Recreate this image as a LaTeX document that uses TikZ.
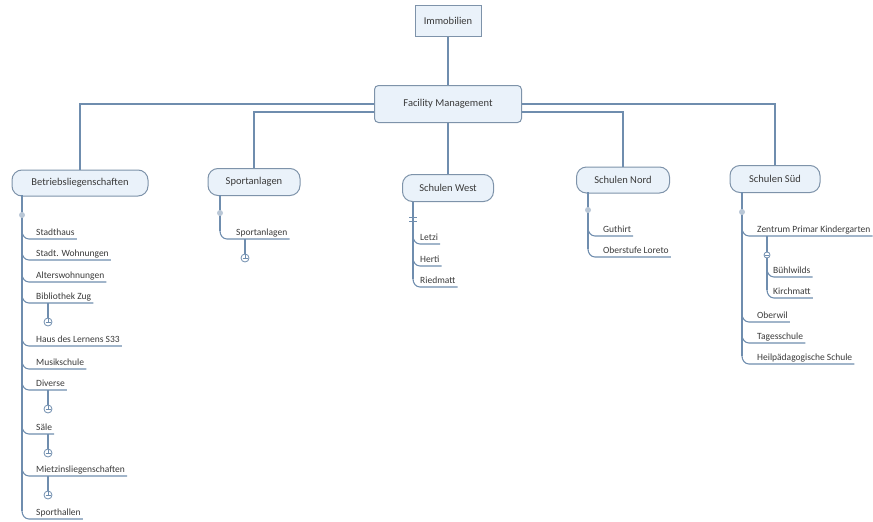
\documentclass[tikz,border=0pt]{standalone}
\usepackage{fontspec}
\setmainfont{Carlito}
\definecolor{lnc}{HTML}{6F8DAE}
\definecolor{boxc}{HTML}{7E93AA}
\definecolor{boxfill}{HTML}{EAF2FA}
\definecolor{txtc}{HTML}{3A3A3A}
\definecolor{dotc}{HTML}{B9C7D6}
\tikzset{
  ln/.style={draw=lnc, line width=1.1pt},
  topbox/.style={draw=boxc, fill=boxfill, line width=1pt, text=txtc, font=\fontsize{10.5}{12}\selectfont, inner sep=2pt},
  pill/.style={topbox, rounded corners=10pt},
  kid/.style={text=txtc, font=\fontsize{9.5}{11}\selectfont, inner xsep=2pt, inner ysep=1pt, anchor=base west}
}
\newcommand\kid[5]{%
  \node[kid] (#4) at (#2-2,#3-4) {#5};
  \draw[ln] (#1,#3-8) to[out=-90,in=180] (#1+7,#3) -- (#4.east |- 0,#3);
}
\newcommand\knob[3]{%
  \draw[ln] (#1,#2) -- (#1,#3);
  \draw[ln, line width=0.8pt, fill=white] (#1,#3) circle[radius=4];
  \draw[ln, line width=0.8pt] (#1-2.5,#3) -- (#1+2.5,#3);
  \draw[ln, line width=0.8pt] (#1,#3-4) -- (#1,#3);
}
\newcommand\sdot[2]{\fill[dotc] (#1,#2) circle[radius=3];}
\begin{document}
\begin{tikzpicture}[x=1pt,y=-1pt]
\useasboundingbox (0,0) rectangle (873,522);
% top
\node[topbox, minimum width=66pt, minimum height=31pt] (imm) at (448,21) {Immobilien};
\node[topbox, rounded corners=4pt, minimum width=147pt, minimum height=37pt] (fm) at (448,104) {Facility Management};
\draw[ln] (imm.south) -- (fm.north);
% second level
\node[pill, minimum width=136pt, minimum height=26pt] (bl) at (80,183) {Betriebsliegenschaften};
\node[pill, minimum width=92pt, minimum height=27pt] (sp) at (254,182) {Sportanlagen};
\node[pill, minimum width=91pt, minimum height=27pt] (sw) at (448,188) {Schulen West};
\node[pill, minimum width=93pt, minimum height=26pt] (sn) at (623,180) {Schulen Nord};
\node[pill, minimum width=90pt, minimum height=27pt] (ss) at (775,179) {Schulen Süd};
\draw[ln] (fm.west) -| (bl.north);
\draw[ln] (fm.east) -| (ss.north);
\draw[ln] (fm.west |- 0,112) -| (sp.north);
\draw[ln] (fm.east |- 0,112) -| (sn.north);
\draw[ln] (fm.south) -- (sw.north);
% Betriebsliegenschaften
\draw[ln] (22,195) -- (22,511);
\sdot{22}{215}
\kid{22}{36}{239}{b1}{Stadthaus}
\kid{22}{36}{260}{b2}{Stadt. Wohnungen}
\kid{22}{36}{282}{b3}{Alterswohnungen}
\kid{22}{36}{303}{b4}{Bibliothek Zug}
\knob{48}{303}{322}
\kid{22}{36}{346}{b5}{Haus des Lernens S33}
\kid{22}{36}{369}{b6}{Musikschule}
\kid{22}{36}{390}{b7}{Diverse}
\knob{48}{390}{409}
\kid{22}{36}{434}{b8}{Säle}
\knob{48}{434}{453}
\kid{22}{36}{476}{b9}{Mietzinsliegenschaften}
\knob{48}{476}{495}
\kid{22}{36}{519}{b10}{Sporthallen}
% Sportanlagen
\draw[ln] (220,195) -- (220,231);
\sdot{220}{213}
\kid{220}{236}{239}{s1}{Sportanlagen}
\knob{245}{239}{258}
% Schulen West
\draw[ln] (413,202) -- (413,279);
\draw[ln, line width=0.8pt] (409,217) -- (417,217);
\draw[ln, line width=0.8pt] (409,221) -- (417,221);
\kid{413}{420}{244}{w1}{Letzi}
\kid{413}{420}{266}{w2}{Herti}
\kid{413}{420}{287}{w3}{Riedmatt}
% Schulen Nord
\draw[ln] (588,192) -- (588,249);
\sdot{588}{210}
\kid{588}{603}{236}{n1}{Guthirt}
\kid{588}{603}{257}{n2}{Oberstufe Loreto}
% Schulen Sued
\draw[ln] (742,192) -- (742,356);
\sdot{742}{212}
\kid{742}{757}{236}{z1}{Zentrum Primar Kindergarten}
\draw[ln] (767,236) -- (767,290);
\draw[ln, line width=0.8pt, fill=white] (767,255) circle[radius=3];
\draw[ln, line width=0.8pt] (765,255) -- (769,255);
\kid{767}{773}{277}{z2}{Bühlwilds}
\kid{767}{773}{298}{z3}{Kirchmatt}
\kid{742}{757}{322}{z4}{Oberwil}
\kid{742}{757}{343}{z5}{Tagesschule}
\kid{742}{757}{364}{z6}{Heilpädagogische Schule}
\end{tikzpicture}
\end{document}
